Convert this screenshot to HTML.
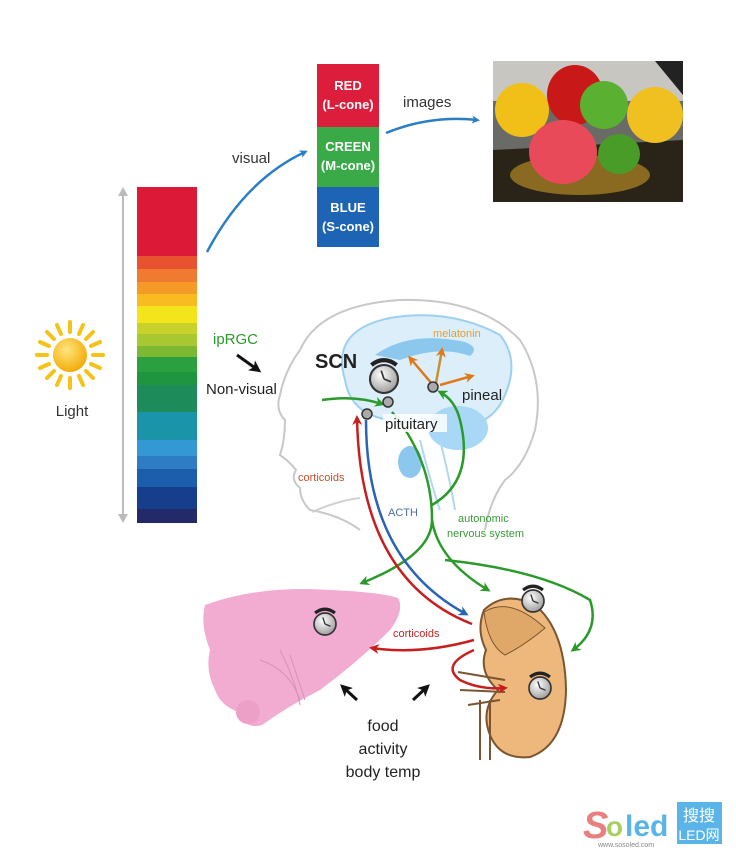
<!DOCTYPE html>
<html><head><meta charset="utf-8"><style>
html,body{margin:0;padding:0;background:#fff;}
svg{display:block;font-family:"Liberation Sans",sans-serif;}
</style></head><body>
<svg width="736" height="864" viewBox="0 0 736 864" xmlns="http://www.w3.org/2000/svg">
<defs>
<marker id="ab" markerWidth="8" markerHeight="8" refX="5" refY="4" orient="auto" markerUnits="userSpaceOnUse"><path d="M0,0 L8,4 L0,8 L2,4z" fill="#2a7fc4"/></marker>
<marker id="ag" markerWidth="10" markerHeight="10" refX="7" refY="5" orient="auto" markerUnits="userSpaceOnUse"><path d="M0,0 L10,5 L0,10 L3,5z" fill="#2a9a2a"/></marker>
<marker id="ar" markerWidth="10" markerHeight="10" refX="7" refY="5" orient="auto" markerUnits="userSpaceOnUse"><path d="M0,0 L10,5 L0,10 L3,5z" fill="#c81e1e"/></marker>
<marker id="abl" markerWidth="10" markerHeight="10" refX="7" refY="5" orient="auto" markerUnits="userSpaceOnUse"><path d="M0,0 L10,5 L0,10 L3,5z" fill="#2a64b4"/></marker>
<marker id="ao" markerWidth="10" markerHeight="10" refX="7" refY="5" orient="auto" markerUnits="userSpaceOnUse"><path d="M0,0 L10,5 L0,10 L3,5z" fill="#e07818"/></marker>
<marker id="ak" markerWidth="12" markerHeight="12" refX="8" refY="6" orient="auto" markerUnits="userSpaceOnUse"><path d="M0,0 L12,6 L0,12 L3,6z" fill="#111"/></marker>
<radialGradient id="sun" cx="0.4" cy="0.35" r="0.7"><stop offset="0" stop-color="#ffe680"/><stop offset="1" stop-color="#f2a800"/></radialGradient>
<radialGradient id="clk" cx="0.4" cy="0.35" r="0.7"><stop offset="0" stop-color="#fff"/><stop offset="1" stop-color="#999"/></radialGradient>
<g id="clock"><path d="M-9,-10 Q0,-17 9,-10" stroke="#222" stroke-width="3" fill="none"/><circle r="10" fill="url(#clk)" stroke="#333" stroke-width="1.5"/><path d="M0,0 L-2,-6 M0,0 L5,2" stroke="#333" stroke-width="1.2"/></g>
</defs>

<line x1="123" y1="190" x2="123" y2="520" stroke="#bbb" stroke-width="2"/>
<path d="M118,196 L123,187 L128,196z M118,514 L123,523 L128,514z" fill="#bbb"/>
<g>
<rect x="137" y="187" width="60" height="69" fill="#dc1a38"/>
<rect x="137" y="256" width="60" height="13" fill="#e8522e"/>
<rect x="137" y="269" width="60" height="13" fill="#f07a30"/>
<rect x="137" y="282" width="60" height="12" fill="#f59a28"/>
<rect x="137" y="294" width="60" height="12" fill="#f8bc20"/>
<rect x="137" y="306" width="60" height="17" fill="#f4e41c"/>
<rect x="137" y="323" width="60" height="11" fill="#c8d22a"/>
<rect x="137" y="334" width="60" height="12" fill="#a8c832"/>
<rect x="137" y="346" width="60" height="11" fill="#7cb832"/>
<rect x="137" y="357" width="60" height="15" fill="#2aa040"/>
<rect x="137" y="372" width="60" height="13" fill="#1e9640"/>
<rect x="137" y="385" width="60" height="27" fill="#1e8c5a"/>
<rect x="137" y="412" width="60" height="28" fill="#1a94a8"/>
<rect x="137" y="440" width="60" height="16" fill="#3498d4"/>
<rect x="137" y="456" width="60" height="13" fill="#2e7cc4"/>
<rect x="137" y="469" width="60" height="18" fill="#1a5eac"/>
<rect x="137" y="487" width="60" height="22" fill="#163e8c"/>
<rect x="137" y="509" width="60" height="14" fill="#222a6a"/>
</g>

<g transform="translate(70,355)" stroke="#f5c318" stroke-width="4" stroke-linecap="round">
<line x1="0" y1="-23" x2="0" y2="-33"/><line x1="0" y1="23" x2="0" y2="33"/>
<line x1="-23" y1="0" x2="-33" y2="0"/><line x1="23" y1="0" x2="33" y2="0"/>
<line x1="16" y1="-16" x2="23" y2="-23"/><line x1="-16" y1="-16" x2="-23" y2="-23"/>
<line x1="16" y1="16" x2="23" y2="23"/><line x1="-16" y1="16" x2="-23" y2="23"/>
<line x1="21" y1="-9" x2="30" y2="-13"/><line x1="-21" y1="-9" x2="-30" y2="-13"/>
<line x1="21" y1="9" x2="30" y2="13"/><line x1="-21" y1="9" x2="-30" y2="13"/>
<line x1="9" y1="-21" x2="13" y2="-30"/><line x1="-9" y1="-21" x2="-13" y2="-30"/>
<line x1="9" y1="21" x2="13" y2="30"/><line x1="-9" y1="21" x2="-13" y2="30"/>
<circle r="17" fill="url(#sun)" stroke="none"/>
</g>
<text x="72" y="416" font-size="15" text-anchor="middle" fill="#333">Light</text>

<rect x="317" y="64" width="62" height="63" fill="#dc1e3c"/>
<rect x="317" y="127" width="62" height="60" fill="#3aaa48"/>
<rect x="317" y="187" width="62" height="60" fill="#1e64b4"/>
<g fill="#fff" font-size="13" font-weight="bold" text-anchor="middle">
<text x="348" y="90">RED</text><text x="348" y="109">(L-cone)</text>
<text x="348" y="151">CREEN</text><text x="348" y="170">(M-cone)</text>
<text x="348" y="212">BLUE</text><text x="348" y="231">(S-cone)</text>
</g>
<path d="M207,252 Q245,180 305,152" stroke="#2a7fc4" stroke-width="2.5" fill="none" marker-end="url(#ab)"/>
<text x="232" y="163" font-size="15" fill="#333">visual</text>
<path d="M386,133 Q430,115 477,120" stroke="#2a7fc4" stroke-width="2.5" fill="none" marker-end="url(#ab)"/>
<text x="403" y="107" font-size="15" fill="#333">images</text>

<rect x="493" y="61" width="190" height="141" fill="#6a6a66"/>
<rect x="493" y="61" width="190" height="40" fill="#c8c6c0"/>
<path d="M655,61 L683,61 L683,95z" fill="#222"/>
<path d="M493,150 L683,140 L683,202 L493,202z" fill="#2a2418"/>
<ellipse cx="580" cy="175" rx="70" ry="20" fill="#8a6a20"/>
<ellipse cx="575" cy="95" rx="28" ry="30" fill="#c81818"/>
<ellipse cx="522" cy="110" rx="27" ry="27" fill="#f0c018"/>
<ellipse cx="655" cy="115" rx="28" ry="28" fill="#f0c020"/>
<ellipse cx="604" cy="105" rx="24" ry="24" fill="#5ab030"/>
<ellipse cx="563" cy="152" rx="34" ry="32" fill="#e84a5a"/>
<ellipse cx="619" cy="154" rx="21" ry="20" fill="#4a9c28"/>

<!-- head outline -->
<path d="M300,350 Q320,305 400,300 Q480,298 520,340 Q545,380 535,430 Q525,465 505,480 Q490,500 485,530" stroke="#c8c8c8" stroke-width="2" fill="none"/>
<path d="M300,350 Q285,370 280,395 Q275,410 285,420 Q285,440 280,455 Q290,462 296,470 Q290,480 300,488 Q300,500 310,510 Q340,515 360,530" stroke="#c8c8c8" stroke-width="2" fill="none"/>
<path d="M312,512 Q340,500 360,498" stroke="#d0d0d0" stroke-width="2" fill="none"/>
<path d="M345,380 Q330,330 390,318 Q450,308 500,335 Q520,360 505,395 Q495,420 470,425 Q440,430 430,420 Q400,425 380,418 Q350,410 345,380z" fill="#dbeefa" stroke="#9cd0f0" stroke-width="2"/>
<path d="M375,355 Q410,330 465,342 Q480,348 470,356 Q440,345 400,360z" fill="#8cc8ee"/>
<ellipse cx="458" cy="428" rx="30" ry="22" fill="#a8d8f6"/>
<ellipse cx="410" cy="462" rx="12" ry="16" fill="#8cc8ee"/>
<path d="M420,440 Q430,480 440,510 M440,440 Q450,480 455,510" stroke="#b0d8f0" stroke-width="2" fill="none"/>

<path d="M433,385 L410,358" stroke="#e07818" stroke-width="2.5" fill="none" marker-end="url(#ao)"/>
<path d="M436,383 L442,350" stroke="#c89030" stroke-width="2.5" fill="none" marker-end="url(#ao)"/>
<path d="M440,385 L472,376" stroke="#e07818" stroke-width="2.5" fill="none" marker-end="url(#ao)"/>
<text x="433" y="337" font-size="11" fill="#e0a030">melatonin</text>

<path d="M322,400 Q355,395 382,404" stroke="#2a9a2a" stroke-width="2.5" fill="none" marker-end="url(#ag)"/>
<path d="M392,412 Q432,460 432,520 Q432,555 362,583" stroke="#2a9a2a" stroke-width="2.5" fill="none" marker-end="url(#ag)"/>
<path d="M432,520 Q438,560 488,590" stroke="#2a9a2a" stroke-width="2.5" fill="none" marker-end="url(#ag)"/>
<path d="M445,560 Q540,570 590,600 Q600,630 573,650" stroke="#2a9a2a" stroke-width="2.5" fill="none" marker-end="url(#ag)"/>
<path d="M432,505 Q475,480 460,420 Q455,400 440,392" stroke="#2a9a2a" stroke-width="2.5" fill="none" marker-end="url(#ag)"/>
<path d="M472,624 Q360,580 357,418" stroke="#c81e1e" stroke-width="2.5" fill="none" marker-end="url(#ar)"/>
<path d="M366,420 Q366,560 466,614" stroke="#2a64b4" stroke-width="2.5" fill="none" marker-end="url(#abl)"/>

<!-- liver -->
<path d="M205,605 Q260,585 330,590 Q380,592 398,598 Q405,610 390,630 Q360,660 320,690 Q290,705 262,725 Q245,730 238,712 Q220,705 215,690 Q205,670 210,650 Q200,625 205,605z" fill="#f2acd2"/>
<circle cx="248" cy="712" r="12" fill="#eca0c8"/>
<path d="M260,660 Q290,670 300,700 M280,650 Q295,680 300,705 M290,655 L305,700" stroke="#d890b8" stroke-width="1" fill="none"/>
<use href="#clock" transform="translate(325,624) scale(1.1)"/>
<text x="393" y="637" font-size="11" fill="#c02828">corticoids</text>

<!-- kidney -->
<path d="M484,610 Q505,590 535,605 Q565,630 566,690 Q565,745 530,757 Q500,760 490,735 Q480,710 498,690 Q478,672 486,650 Q476,630 484,610z" fill="#eeb87c" stroke="#7a5530" stroke-width="2"/>
<path d="M484,612 Q510,596 545,628 Q525,645 505,655 Q488,645 484,612z" fill="#e0a868" stroke="#7a5530" stroke-width="1"/>
<path d="M458,672 L505,680 M460,690 L505,692 M468,705 L500,700 M480,700 L480,760 M490,700 L490,760" stroke="#7a5530" stroke-width="2" fill="none"/>
<use href="#clock" transform="translate(533,601) scale(1.1)"/>
<use href="#clock" transform="translate(540,688) scale(1.1)"/>
<path d="M474,640 Q420,655 372,648" stroke="#c81e1e" stroke-width="2.5" fill="none" marker-end="url(#ar)"/>
<path d="M474,650 Q440,665 460,680 Q480,690 505,688" stroke="#c81e1e" stroke-width="2.5" fill="none" marker-end="url(#ar)"/>

<circle cx="388" cy="402" r="5" fill="#aaa" stroke="#333" stroke-width="1.5"/>
<circle cx="367" cy="414" r="5" fill="#aaa" stroke="#333" stroke-width="1.5"/>
<circle cx="433" cy="387" r="5" fill="#aaa" stroke="#333" stroke-width="1.5"/>
<use href="#clock" transform="translate(384,379) scale(1.4)"/>
<text x="315" y="368" font-size="20" font-weight="bold" fill="#222">SCN</text>
<text x="462" y="400" font-size="15" fill="#222">pineal</text>
<rect x="383" y="414" width="64" height="18" fill="#fff" opacity="0.85"/>
<text x="385" y="429" font-size="15" fill="#222">pituitary</text>
<text x="213" y="344" font-size="15" fill="#2a9a2a">ipRGC</text>
<path d="M237,355 L258,370" stroke="#111" stroke-width="3" marker-end="url(#ak)"/>
<text x="206" y="394" font-size="15" fill="#222">Non-visual</text>
<text x="298" y="481" font-size="11" fill="#c05030">corticoids</text>
<text x="388" y="516" font-size="11" fill="#4a70a8">ACTH</text>
<text x="458" y="522" font-size="11" fill="#3a9a3a">autonomic</text>
<text x="447" y="537" font-size="11" fill="#3a9a3a">nervous system</text>

<path d="M357,700 L343,687" stroke="#111" stroke-width="3" marker-end="url(#ak)"/>
<path d="M413,700 L427,687" stroke="#111" stroke-width="3" marker-end="url(#ak)"/>
<g font-size="16" fill="#222" text-anchor="middle">
<text x="383" y="731">food</text><text x="383" y="754">activity</text><text x="383" y="777">body temp</text>
</g>

<text x="583" y="838" font-size="38" font-weight="bold" fill="#e88080" font-style="italic">S</text>
<text x="606" y="836" font-size="28" font-weight="bold" fill="#a8d060">o</text>
<text x="625" y="836" font-size="30" font-weight="bold" fill="#5ab4e8">led</text>
<rect x="677" y="802" width="45" height="42" fill="#5ab4e8"/>
<text x="699" y="821" font-size="16" fill="#fff" text-anchor="middle" font-family="Liberation Sans,Noto Sans CJK SC,sans-serif">搜搜</text>
<text x="699" y="840" font-size="14" fill="#fff" text-anchor="middle" font-family="Liberation Sans,Noto Sans CJK SC,sans-serif">LED网</text>
<text x="598" y="847" font-size="7" fill="#888">www.sosoled.com</text>
</svg>
</body></html>
